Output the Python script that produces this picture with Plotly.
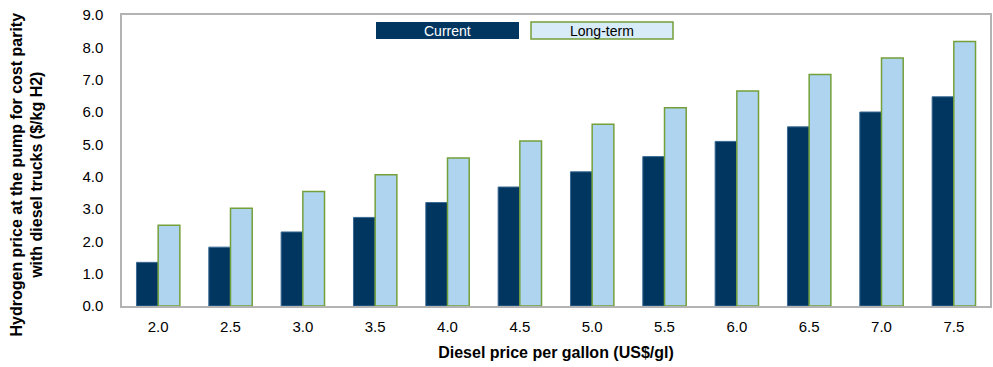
import plotly.graph_objects as go

categories = ["2.0", "2.5", "3.0", "3.5", "4.0", "4.5", "5.0", "5.5", "6.0", "6.5", "7.0", "7.5"]
current = [1.35, 1.82, 2.29, 2.74, 3.20, 3.68, 4.15, 4.62, 5.09, 5.54, 6.00, 6.47]
long_term = [2.50, 3.02, 3.54, 4.06, 4.58, 5.10, 5.62, 6.13, 6.65, 7.16, 7.67, 8.18]
y_ticks = [0, 1, 2, 3, 4, 5, 6, 7, 8, 9]

DARK = "#003660"
LIGHT = "#aed4ef"
GREEN = "#74a03a"
FONT = "Liberation Sans, Arial, sans-serif"

fig = go.Figure()
fig.add_trace(go.Bar(x=categories, y=current, name="Current",
                     marker=dict(color=DARK, line=dict(color="#3a6a94", width=1))))
fig.add_trace(go.Bar(x=categories, y=long_term, name="Long-term",
                     marker=dict(color=LIGHT, line=dict(color=GREEN, width=1.5))))

fig.update_layout(
    width=993, height=367,
    margin=dict(l=122, r=3, t=15, b=61, autoexpand=False),
    barmode="group", bargap=0.4, bargroupgap=0,
    plot_bgcolor="white", paper_bgcolor="white",
    showlegend=False,
    font=dict(family=FONT, size=15, color="#000"),
    xaxis=dict(
        automargin=False,
        showline=True, linecolor="#b3b3b3", linewidth=1.5, mirror=True,
        ticks="outside", ticklen=0, tickcolor="rgba(0,0,0,0)",
        ticklabelstandoff=6,
        tickfont=dict(size=15),
        title=dict(text="<b>Diesel price per gallon (US$/gl)</b>", font=dict(size=16), standoff=13),
    ),
    yaxis=dict(
        automargin=False,
        range=[0, 9], tickvals=y_ticks, tickformat=".1f",
        showgrid=False, zeroline=False,
        showline=True, linecolor="#b3b3b3", linewidth=1.5, mirror=True,
        ticks="outside", ticklen=0, tickcolor="rgba(0,0,0,0)",
        ticklabelstandoff=14, ticklabeloverflow="allow",
        tickfont=dict(size=15),
    ),
)

# positions relative to plot area (pixel -> paper)
x0p = lambda px: (px - 122) / (990 - 122)
y0p = lambda py: (306 - py) / (306 - 15)

# y-axis title as rotated annotation
fig.add_annotation(xref="paper", yref="paper", x=x0p(26.5), y=y0p(175),
                   xanchor="center", yanchor="middle", textangle=-90, showarrow=False,
                   text="<b>Hydrogen price at the pump for cost parity<br>with diesel trucks ($/kg H2)</b>",
                   font=dict(size=16))

# Legend boxes drawn as shapes with text
fig.add_shape(type="rect", xref="paper", yref="paper",
              x0=x0p(376), x1=x0p(519), y0=y0p(39), y1=y0p(22),
              fillcolor=DARK, line=dict(color=DARK, width=0))
fig.add_shape(type="rect", xref="paper", yref="paper",
              x0=x0p(531), x1=x0p(673), y0=y0p(39), y1=y0p(22),
              fillcolor="#d7ebf9", line=dict(color=GREEN, width=1.5))
fig.add_annotation(xref="paper", yref="paper", x=x0p(447.5), y=y0p(30.5),
                   xanchor="center", yanchor="middle",
                   text="Current", showarrow=False, font=dict(color="white", size=14))
fig.add_annotation(xref="paper", yref="paper", x=x0p(602), y=y0p(30.5),
                   xanchor="center", yanchor="middle",
                   text="Long-term", showarrow=False, font=dict(color="black", size=14))

fig.write_html("out.html", config={"displayModeBar": False},
               post_script="document.body.style.margin='0px';document.body.style.overflow='hidden';")
